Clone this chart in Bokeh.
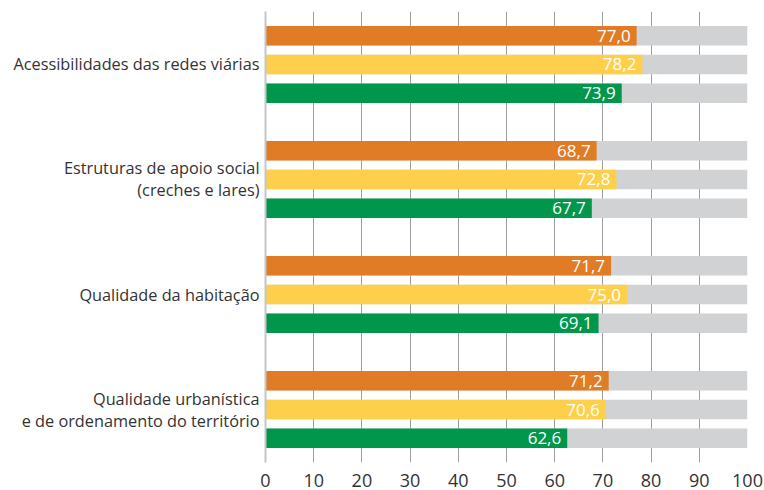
from bokeh.plotting import figure
from bokeh.models import FactorRange, ColumnDataSource, FixedTicker
from bokeh.transform import dodge
from bokeh.embed import file_html
from bokeh.resources import INLINE

categories = [
    "Acessibilidades das redes viárias",
    "Estruturas de apoio social\n(creches e lares)",
    "Qualidade da habitação",
    "Qualidade urbanística\ne de ordenamento do território",
]
series_names = ["Série 1", "Série 2", "Série 3"]
values_orange = [77.0, 68.7, 71.7, 71.2]
values_yellow = [78.2, 72.8, 75.0, 70.6]
values_green = [73.9, 67.7, 69.1, 62.6]
max_value = 100
x_ticks = [0, 10, 20, 30, 40, 50, 60, 70, 80, 90, 100]

colors = ["#e07c26", "#fecf4b", "#00974d"]
series = [values_orange, values_yellow, values_green]
offsets = [0.25, 0.0, -0.25]
FONT = "Open Sans"

y_range = FactorRange(factors=list(reversed(categories)),
                      range_padding=-0.04, range_padding_units="absolute")

p = figure(width=764, height=490, y_range=y_range, x_range=(0, 100),
           output_backend="svg", toolbar_location=None,
           min_border_left=265, min_border_right=17, min_border_top=11,
           min_border_bottom=28)
p.outline_line_color = None
p.background_fill_color = "white"
p.border_fill_color = "white"

bar_h = 0.17
for vals, col, off, name in zip(series, colors, offsets, series_names):
    src = ColumnDataSource(dict(
        cat=categories,
        val=vals,
        full=[max_value] * len(vals),
        lab=[f"{v:.1f}".replace(".", ",") for v in vals],
    ))
    ydod = dodge("cat", off, range=y_range)
    p.hbar(y=ydod, left=0, right="full", height=bar_h, source=src,
           fill_color="#d1d2d4", line_color=None)
    p.hbar(y=ydod, left=0, right="val", height=bar_h, source=src,
           fill_color=col, line_color=None)
    p.text(x="val", y=ydod, text="lab", source=src, x_offset=-6,
           text_align="right", text_baseline="middle",
           text_color="white", text_font_size="17px",
           text_font={"value": FONT})

# x axis
p.xaxis.ticker = FixedTicker(ticks=x_ticks)
p.xaxis.axis_line_color = None
p.xaxis.major_tick_line_color = None
p.xaxis.minor_tick_line_color = None
p.xaxis.major_label_text_font = FONT
p.xaxis.major_label_text_font_size = "18px"
p.xaxis.major_label_text_color = "#333333"
p.xaxis.major_label_standoff = 5

# y axis
p.yaxis.axis_line_color = "#c6c6c6"
p.yaxis.axis_line_width = 2
p.yaxis.major_tick_line_color = None
p.yaxis.minor_tick_line_color = None
p.yaxis.major_label_text_font = FONT
p.yaxis.major_label_text_font_size = "16.3px"
p.yaxis.major_label_text_color = "#333333"
p.yaxis.major_label_text_line_height = 1.0
p.yaxis.major_label_standoff = 0

p.xgrid.grid_line_color = "#9e9e9e"
p.xgrid.grid_line_width = 1
p.ygrid.grid_line_color = None

open("out.html", "w").write(file_html(p, INLINE))
